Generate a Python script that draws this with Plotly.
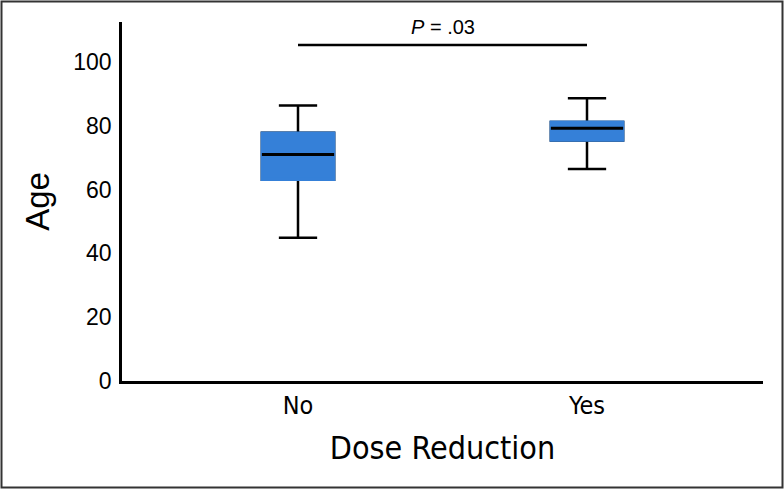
import plotly.graph_objects as go

categories = ["No", "Yes"]
lower_whisker = [44.9, 66.4]
q1_values = [63.1, 75.4]
median_values = [71.0, 79.2]
q3_values = [77.8, 81.2]
upper_whisker = [86.3, 88.6]
sig_bar_y = [105.3, 105.3]
p_label = "<i>P</i> = .03"
y_ticks = [0, 20, 40, 60, 80, 100]

BLUE = "#3580d8"
BOX_W = 0.25

fig = go.Figure()

# whiskers + caps (black), full box
fig.add_trace(go.Box(
    x=categories, q1=q1_values, median=median_values, q3=q3_values,
    lowerfence=lower_whisker, upperfence=upper_whisker,
    width=BOX_W, whiskerwidth=0.53, fillcolor=BLUE,
    line=dict(color="black", width=2.5), boxpoints=False,
    showlegend=False, hoverinfo="skip"))

# blue body covering outline
fig.add_trace(go.Box(
    x=categories, q1=q1_values, median=q1_values, q3=q3_values,
    lowerfence=q1_values, upperfence=q3_values,
    width=BOX_W, whiskerwidth=0, fillcolor=BLUE,
    line=dict(color=BLUE, width=2.6), boxpoints=False,
    showlegend=False, hoverinfo="skip"))

# black median line
fig.add_trace(go.Box(
    x=categories, q1=median_values, median=median_values, q3=median_values,
    lowerfence=median_values, upperfence=median_values,
    width=BOX_W, whiskerwidth=0, fillcolor="black",
    line=dict(color="black", width=3), boxpoints=False,
    showlegend=False, hoverinfo="skip"))

# significance bar
fig.add_trace(go.Scatter(
    x=categories, y=sig_bar_y, mode="lines",
    line=dict(color="black", width=2.5), showlegend=False, hoverinfo="skip"))

fig.add_annotation(
    x=0.5, y=111, xref="x", yref="y", text=p_label, showarrow=False,
    font=dict(family="Liberation Sans, Arial", size=20, color="black"))

L, R, T, B = 122, 21, 22, 108
W, H = 784, 489
pw, ph = W - L - R, H - T - B
fig.add_shape(
    type="rect", xref="paper", yref="paper",
    x0=(1.5 - L) / pw, x1=(W - 1.5 - L) / pw,
    y0=-(H - 1.5 - (T + ph)) / ph,
    y1=(T + ph - 1.5) / ph,
    line=dict(color="#333333", width=2), layer="above")

COND = "Liberation Sans Narrow, DejaVu Sans Condensed, Arial"
fig.update_layout(
    width=W, height=H,
    margin=dict(l=L, r=R, t=T, b=B),
    plot_bgcolor="white", paper_bgcolor="white",
    xaxis=dict(
        type="category", range=[-0.609, 1.609],
        showline=True, linecolor="black", linewidth=2.5,
        showgrid=False, zeroline=False, ticks="",
        tickfont=dict(family=COND, size=25, color="black"),
        ticklabelstandoff=0,
        title=dict(text="Dose Reduction", standoff=18,
                   font=dict(family=COND, size=32, color="black")),
    ),
    yaxis=dict(
        range=[0, 112.5], tickvals=y_ticks,
        showline=True, linecolor="black", linewidth=2.5,
        showgrid=False, zeroline=False, ticks="",
        tickfont=dict(family="Liberation Sans, Arial", size=23, color="black"),
        ticklabelstandoff=3,
        title=dict(text="Age", standoff=14,
                   font=dict(family="Liberation Sans, Arial", size=33, color="black")),
    ),
)

fig.write_html("out.html", post_script="document.body.style.margin='0';",
               config={"displayModeBar": False})
